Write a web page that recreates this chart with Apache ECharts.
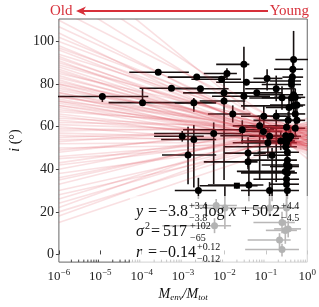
<!DOCTYPE html>
<html><head><meta charset="utf-8">
<script src="https://cdn.jsdelivr.net/npm/echarts@6/dist/echarts.min.js"></script>
<style>html,body{margin:0;padding:0;background:#fff}#c{width:319px;height:307px}</style>
</head><body><div id="c"></div>
<script>
// ---- axis ticks ----
const xTickExponents = [-6, -5, -4, -3, -2, -1, 0];
const yTickValues = [0, 20, 40, 60, 80, 100];

// ---- data points: log10(Menv/Mtot), inclination (deg), error bar ends ----
const logM    = [-4.95,-3.60,-3.98,-3.28,-2.67,-2.58,-2.74,-3.02,-2.74,-2.88,-1.53,-0.33,-0.36,-1.94,-2.07,-0.97,-1.47,-2.01,-1.22,-0.75,-1.53,-2.01,-0.61,-1.80,-1.05,-0.75,-1.15,-1.57,-2.26,-1.06,-0.91,-0.95,-1.43,-0.85,-0.56,-0.52,-0.48,-0.48,-0.44,-0.53,-0.50,-0.48,-0.50,-0.50,-1.41,-1.43,-0.38,-0.38,-0.33,-0.29,-0.38,-0.25,-0.33,-0.44,-0.29,-0.46,-0.25,-0.50,-0.29,-0.52,-0.40,-0.50,-0.64,-0.44,-0.35,-2.63,-1.99,-2.24,-0.91,-0.48,-0.91,-0.50,-0.61,-0.53,-0.46,-0.67,-0.61,-2.20];
const incl    = [74.2,85.6,71.3,78.1,83.3,77.8,71.2,55.5,54.0,46.7,89.3,91.6,83.3,85.0,82.3,82.7,80.9,75.9,75.9,77.8,74.3,72.1,73.6,66.0,64.9,64.9,60.4,58.6,56.8,57.8,55.5,52.5,47.6,46.6,53.3,50.6,48.0,44.3,41.3,39.0,42.0,38.3,35.3,33.0,32.6,43.5,81.5,79.8,75.0,73.8,73.5,70.2,69.8,69.0,66.0,63.0,63.0,59.7,59.3,55.8,55.5,52.5,53.3,54.5,87.0,30.0,21.8,13.5,30.0,30.0,21.8,21.8,15.0,11.3,12.0,6.8,2.3,23.0];
const logMLo  = [-6.50,-4.30,-4.80,-4.05,-3.37,-3.30,-3.20,-3.70,-3.53,-3.51,-2.20,-0.77,-0.60,-2.50,-2.80,-1.30,-2.20,-3.00,-2.00,-1.50,-2.30,-2.60,-1.10,-2.40,-1.60,-1.20,-1.80,-3.00,-3.70,-1.60,-1.40,-1.50,-2.00,-1.30,-1.60,-2.00,-1.20,-1.50,-0.90,-1.70,-1.10,-1.60,-1.30,-0.90,-2.40,-2.50,-0.90,-1.10,-1.20,-0.80,-1.40,-0.90,-1.60,-1.00,-0.80,-1.30,-0.70,-1.50,-0.90,-2.10,-1.00,-1.80,-1.40,-0.90,-0.80,-3.20,-2.60,-3.50,-1.60,-1.00,-1.60,-1.20,-1.30,-1.00,-0.80,-1.44,-1.50,-2.80];
const logMHi  = [-3.84,-2.86,-2.60,-2.58,-1.95,-1.90,-2.20,-2.50,-2.20,-2.20,-1.40,0.05,-0.10,-1.70,-1.60,-0.60,-1.00,-1.30,-0.60,-0.30,-0.90,-1.50,-0.30,-1.37,-0.50,-0.40,-0.40,-0.80,-1.60,-0.60,-0.40,-0.50,-1.00,-0.40,-0.30,-0.25,-0.20,-0.25,-0.20,-0.30,-0.20,-0.25,-0.20,-0.20,-1.06,-1.20,-0.15,-0.15,-0.10,-0.05,-0.15,-0.05,-0.10,-0.20,-0.05,-0.20,-0.05,-0.25,-0.05,-0.25,-0.15,-0.25,-0.30,-0.20,-0.10,-2.20,-1.50,-1.84,-0.50,-0.20,-0.50,-0.20,-0.30,-0.25,-0.15,-0.40,-0.20,-1.70];
const inclLo  = [71.6,84.6,70.0,77.1,82.3,76.8,67.0,53.0,31.5,33.0,80.0,85.0,80.0,82.0,81.0,77.0,79.5,72.0,74.5,72.0,68.0,35.0,68.0,62.0,59.0,34.0,35.0,52.0,33.0,54.0,52.0,45.0,40.0,25.0,50.0,47.0,44.0,40.0,37.0,35.0,38.0,34.0,31.0,22.0,25.0,41.0,78.0,76.0,71.0,70.0,69.0,66.0,65.0,64.0,62.0,59.0,59.0,55.0,55.0,52.0,51.0,48.0,49.0,50.0,83.0,26.0,12.0,10.0,18.0,26.0,18.0,17.0,10.0,5.0,8.0,3.0,-1.0,20.0];
const inclHi  = [75.5,86.6,78.0,79.1,84.3,78.8,73.5,58.0,60.8,60.0,97.6,105.0,87.0,87.5,83.5,87.0,82.0,84.0,77.5,84.0,80.0,74.0,79.0,70.0,70.0,68.0,65.0,63.0,62.0,61.0,59.0,60.0,55.0,50.0,57.0,54.0,52.0,48.0,45.0,43.0,46.0,42.0,39.0,44.0,48.0,46.0,85.0,84.0,79.0,78.0,78.0,74.0,74.0,73.0,70.0,67.0,67.0,64.0,63.0,60.0,60.0,57.0,58.0,59.0,92.0,36.0,32.0,17.0,34.0,34.0,26.0,26.0,20.0,16.0,16.0,10.0,5.0,26.0];

// ---- square-marker source ----
const sqLogM = [-1.70], sqIncl = [32.3], sqLogMLo = [-2.60], sqLogMHi = [-1.20], sqInclLo = [31.0], sqInclHi = [33.5];

// ---- posterior fit lines: inclination at Menv/Mtot = 1e-6 and at 1 ----
const fitAtLeft  = [140,130,122,115,110,107,104,102,100,98, 97,96,94,93,92,91,90,89,88,87, 86,85,84,83,82,81,80,80,79,78, 77,76,76,75,74,74,73,72,72,71, 70,70,69,68,67,66,65,64,63,62, 61,60,59,58,57,56,55,54,53,52, 50,49,48,46,45,43,42,40,38,36, 35,33,30,28,26,24,22,20,18,15];
const fitAtRight = [45,53,50,56,49,53,47,54,56,51, 56,52,58,50,54,48,55,57,51,49, 52,59,51,55,49,56,58,52,50,57, 59,51,55,49,56,58,52,51,58,54, 52,56,50,57,59,53,51,58,54,60, 57,51,58,60,54,52,59,55,61,53, 52,59,61,55,53,60,56,62,54,59, 60,62,56,54,61,58,64,56,60,54];

const X_MIN = 1e-6, X_MAX = 1, Y_MIN = -3.6, Y_MAX = 110.6;
const SERIF = '"Liberation Serif", "DejaVu Serif", serif';
const RED = '#d7303a';

const pts = logM.map((m, i) => [Math.pow(10, m), incl[i], Math.pow(10, logMLo[i]), Math.pow(10, logMHi[i]), inclLo[i], inclHi[i]]);
const sqPts = sqLogM.map((m, i) => [Math.pow(10, m), sqIncl[i], Math.pow(10, sqLogMLo[i]), Math.pow(10, sqLogMHi[i]), sqInclLo[i], sqInclHi[i]]);
const fits = fitAtLeft.map((l, i) => [l, fitAtRight[i]]);
const minorTicks = [];
for (let k = 0; k < xTickExponents.length - 1; k++) for (let m = 2; m <= 9; m++) minorTicks.push([m * Math.pow(10, xTickExponents[k]), Y_MIN]);

function renderErr(params, api) {
  const x = api.value(0), y = api.value(1);
  const a = api.coord([api.value(2), y]), b = api.coord([api.value(3), y]);
  const c = api.coord([x, api.value(4)]), d = api.coord([x, api.value(5)]);
  const st = { stroke: '#161010', lineWidth: 1.6 };
  return { type: 'group', children: [
    { type: 'line', shape: { x1: a[0], y1: a[1], x2: b[0], y2: b[1] }, style: st },
    { type: 'line', shape: { x1: c[0], y1: c[1], x2: d[0], y2: d[1] }, style: st }
  ]};
}
function renderFit(params, api) {
  const p1 = api.coord([X_MIN, api.value(0)]);
  const p2 = api.coord([X_MAX, api.value(1)]);
  return { type: 'line', shape: { x1: p1[0], y1: p1[1], x2: p2[0], y2: p2[1] },
    style: { stroke: RED, lineWidth: 1.6, opacity: 0.15 } };
}
function renderMinor(params, api) {
  const p = api.coord([api.value(0), api.value(1)]);
  return { type: 'line', shape: { x1: p[0], y1: p[1], x2: p[0], y2: p[1] - 2.5 }, style: { stroke: '#444', lineWidth: 1 } };
}

const chart = echarts.init(document.getElementById('c'));
const T = (x, y, text, size, opts) => ({ type: 'text', x: x, y: y, z: 101,
  style: { text: text, fill: '#111', font: (opts && opts.italic ? 'italic ' : '') + size + 'px ' + SERIF, align: 'left', verticalAlign: 'middle' } });

chart.setOption({
  animation: false,
  grid: { left: 51, top: 19, width: 258, height: 254, show: true, borderColor: '#666', borderWidth: 1, backgroundColor: 'transparent' },
  xAxis: {
    type: 'log', logBase: 10, min: X_MIN, max: X_MAX, splitNumber: 6,
    axisLine: { show: false }, splitLine: { show: false },
    axisTick: { inside: true, length: 4, lineStyle: { color: '#444' } },
    axisLabel: { margin: 6, formatter: v => { const e = Math.round(Math.log10(v)); return '{b|10}{s|' + (e < 0 ? '−' + (-e) : e) + '}'; },
      rich: { b: { fontFamily: SERIF, fontSize: 13, color: '#222' }, s: { fontFamily: SERIF, fontSize: 9, color: '#222', padding: [0, 0, 7, 0] } } },
    name: '{m|M}{s|env}{n|/}{m|M}{s|tot}', nameLocation: 'middle', nameGap: 18,
    nameTextStyle: { rich: { m: { fontFamily: SERIF, fontStyle: 'italic', fontSize: 14, color: '#111' }, s: { fontFamily: SERIF, fontStyle: 'italic', fontSize: 9, color: '#111', padding: [6, 0, 0, 0] }, n: { fontFamily: SERIF, fontStyle: 'italic', fontSize: 14, color: '#111' } } }
  },
  yAxis: {
    type: 'value', min: Y_MIN, max: Y_MAX,
    axisLine: { show: false }, splitLine: { show: false },
    axisTick: { inside: false, length: 3, customValues: yTickValues, lineStyle: { color: '#444' } },
    axisLabel: { customValues: yTickValues, margin: 5, fontFamily: SERIF, fontSize: 14, color: '#222' },
    name: '{i|i} (°)', nameLocation: 'middle', nameRotate: 90, nameGap: 29,
    nameTextStyle: { fontFamily: SERIF, fontSize: 14, color: '#111', rich: { i: { fontFamily: SERIF, fontStyle: 'italic', fontSize: 14, color: '#111' } } }
  },
  series: [
    { type: 'custom', renderItem: renderErr, data: pts, z: 2, clip: true, silent: true },
    { type: 'custom', renderItem: renderErr, data: sqPts, z: 2, clip: true, silent: true },
    { type: 'custom', renderItem: renderFit, data: fits, z: 3, clip: true, silent: true, encode: { x: -1, y: -1 } },
    { type: 'scatter', data: pts.map(p => [p[0], p[1]]), symbol: 'circle', symbolSize: 7, itemStyle: { color: '#000', opacity: 1 }, z: 4, silent: true },
    { type: 'scatter', data: sqPts.map(p => [p[0], p[1]]), symbol: 'rect', symbolSize: 6, itemStyle: { color: '#000', opacity: 1 }, z: 4, silent: true },
    { type: 'custom', renderItem: renderMinor, data: minorTicks, z: 5, clip: false, silent: true }
  ],
  graphic: [
    { type: 'rect', z: 100, shape: { x: 130, y: 196, width: 179, height: 72 }, style: { fill: 'rgba(255,255,255,0.7)' } },
    // line 1
    T(136, 212, 'y', 16, { italic: true }), T(148, 212, '=', 16), T(159, 212, '−3.8', 16),
    T(189, 206, '+3.4', 10), T(189, 218, '−3.8', 10),
    T(204, 212, 'log', 16), T(229, 212, 'x', 16, { italic: true }), T(241, 212, '+', 16),
    T(252, 212, '50.2', 16), T(281, 206, '+4.4', 10), T(281, 218, '−4.5', 10),
    // line 2
    T(136, 232, 'σ', 16, { italic: true }), T(145, 226, '2', 10), T(151, 232, '=', 16), T(163, 232, '517', 16),
    T(190, 226, '+102', 10), T(190, 238, '−65', 10),
    // line 3
    T(136, 253, 'r', 16, { italic: true }), T(148, 253, '=', 16), T(159, 253, '−0.14', 16),
    T(197, 247, '+0.12', 10), T(197, 259, '−0.12', 10),
    // top annotation
    { type: 'text', x: 50, y: 11, z: 101, style: { text: 'Old', fill: RED, font: '15px ' + SERIF, align: 'left', verticalAlign: 'middle' } },
    { type: 'text', x: 309, y: 11, z: 101, style: { text: 'Young', fill: RED, font: '15px ' + SERIF, align: 'right', verticalAlign: 'middle' } },
    { type: 'line', z: 101, shape: { x1: 82, y1: 11, x2: 268, y2: 11 }, style: { stroke: RED, lineWidth: 2.2 } },
    { type: 'polygon', z: 101, shape: { points: [[76, 11], [86, 6.5], [83, 11], [86, 15.5]] }, style: { fill: RED } }
  ]
});
</script>
</body></html>
